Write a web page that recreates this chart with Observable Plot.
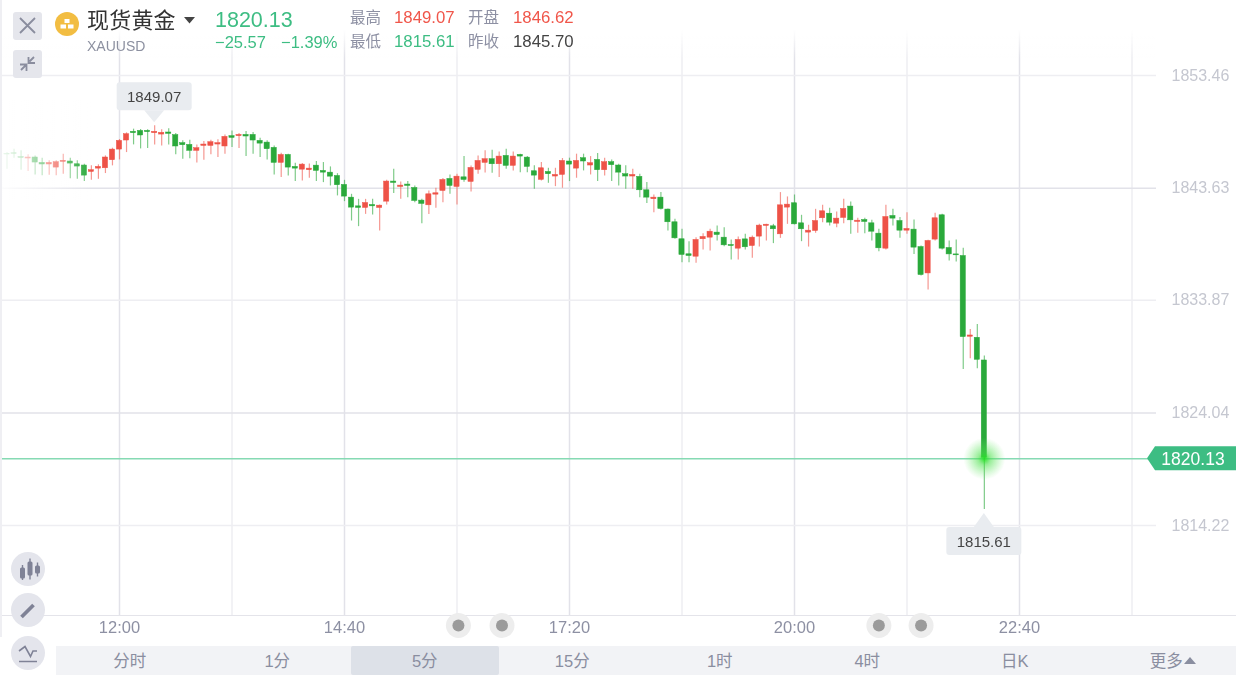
<!DOCTYPE html>
<html><head><meta charset="utf-8">
<script src="https://cdn.jsdelivr.net/npm/d3@7"></script>
<script src="https://cdn.jsdelivr.net/npm/@observablehq/plot@0.6"></script>
<style>
html,body{margin:0;padding:0;background:#fff;width:1236px;height:676px;overflow:hidden;font-family:"Liberation Sans","Noto Sans CJK SC",sans-serif}
#root{position:relative;width:1236px;height:676px;filter:blur(.35px)}
.a{position:absolute;white-space:nowrap;line-height:1}
.btn{position:absolute;background:#e5e6ec;border-radius:3px}
.circ{position:absolute;left:11px;width:34px;height:34px;border-radius:50%;background:#e4e5ec}
#tabs{position:absolute;left:56px;top:646px;width:1180px;height:29px;background:#f2f3f6;display:flex}
#tabs div{width:147.5px;text-align:center;line-height:30px;font-size:16.5px;color:#8a8ea0;box-sizing:border-box}
#tabs div.on{background:#dde1e8;border-radius:2px}
#tabs div.more{padding-left:21px}
.gr{color:#3dbd83}.rd{color:#f0564a}.lb{color:#8d90a3}.dk{color:#444}
</style></head><body><div id="root"></div>
<script>
// five-minute candles, first candle 80 minutes before 12:00
const firstMinute = -80, stepMinutes = 5;
const directions = "GGGRGGRRRG"+"GGRRRRRRGG"+"GRRGGGGRRR"+"RRGRGGGGGR"+"GGRRGGGGGG"+"GRGRRGRGGG"+"RRRGRGRRRG"+"RGRGGGRGRR"+"GRGRGRGGGR"+"GGRGGGGGRR"+"RGGGRGRRRG"+"RRGGRRRGRR"+"GRGGGRGGRG"+"GRRGGGGRGG";
const highs = [
1846.74,1847.03,1846.89,1846.54,1846.45,1846.25,1846.02,1846.02,1846.60,1846.25,
1846.02,1845.72,1845.58,1845.67,1846.45,1847.12,1847.88,1848.46,1848.78,1848.75,
1848.72,1849.07,1848.72,1848.81,1848.40,1847.76,1847.82,1847.41,1847.70,1847.82,
1847.85,1848.28,1848.63,1848.40,1848.58,1848.49,1847.99,1847.76,1847.32,1846.68,
1846.59,1845.81,1845.78,1845.75,1845.95,1845.87,1845.49,1844.90,1844.32,1843.10,
1842.66,1842.66,1842.66,1842.17,1844.32,1845.28,1844.18,1844.21,1843.83,1842.66,
1843.39,1843.62,1844.47,1844.79,1844.85,1846.39,1845.57,1846.45,1846.89,1846.95,
1846.80,1847.03,1846.80,1846.60,1846.39,1845.58,1845.87,1845.37,1845.37,1846.22,
1846.25,1846.60,1846.60,1846.39,1846.65,1846.25,1846.10,1845.72,1845.58,1845.29,
1844.85,1844.12,1843.05,1843.25,1841.82,1840.92,1840.05,1838.97,1839.32,1839.67,
1840.05,1840.34,1840.19,1839.12,1839.38,1839.61,1839.46,1840.48,1840.48,1840.48,
1843.25,1842.87,1843.04,1841.27,1840.40,1841.79,1842.14,1841.88,1841.56,1842.67,
1842.43,1841.01,1841.01,1840.83,1840.05,1842.14,1841.79,1841.07,1841.50,1840.86,
1838.59,1839.09,1841.44,1841.36,1839.03,1839.12,1838.39,1831.32,1831.75,1828.99];
const bodyTops = [
1846.63,1846.68,1846.34,1846.31,1846.31,1845.84,1845.84,1845.90,1846.02,1845.96,
1845.72,1845.61,1845.20,1845.49,1846.31,1847.00,1847.76,1848.34,1848.55,1848.63,
1848.63,1848.55,1848.46,1848.49,1848.26,1847.56,1847.41,1847.12,1847.44,1847.64,
1847.56,1848.11,1848.17,1848.28,1848.28,1848.28,1847.76,1847.61,1847.15,1846.53,
1846.53,1845.49,1845.69,1845.34,1845.60,1845.14,1844.99,1844.70,1843.92,1842.81,
1842.05,1842.34,1842.17,1842.11,1844.21,1844.21,1843.86,1843.95,1843.65,1842.55,
1843.10,1843.19,1844.35,1844.44,1844.64,1844.58,1845.40,1846.01,1846.16,1846.16,
1846.39,1846.45,1846.39,1846.54,1846.30,1845.11,1845.37,1845.05,1844.79,1846.01,
1845.96,1846.01,1846.25,1845.81,1846.10,1845.90,1845.90,1845.61,1844.85,1844.79,
1844.62,1843.45,1842.81,1842.81,1841.77,1840.66,1839.18,1837.87,1839.12,1839.38,
1839.84,1839.76,1839.32,1838.68,1839.12,1839.17,1839.32,1840.37,1840.45,1840.31,
1842.14,1842.20,1842.32,1840.57,1839.93,1840.77,1841.62,1841.41,1840.98,1841.82,
1842.03,1840.80,1840.86,1840.57,1839.67,1841.12,1841.21,1840.77,1840.08,1840.02,
1838.50,1839.03,1841.01,1841.27,1838.42,1837.86,1837.72,1830.79,1830.59,1828.61];
const bodyBottoms = [
1846.57,1846.63,1846.28,1846.22,1845.87,1845.70,1845.70,1845.43,1845.93,1845.78,
1845.52,1844.73,1845.05,1845.34,1845.37,1846.07,1847.00,1847.79,1848.43,1848.23,
1848.52,1848.43,1848.31,1848.37,1847.27,1847.38,1846.89,1846.89,1847.32,1847.32,
1847.44,1847.27,1848.02,1848.17,1848.14,1847.79,1847.52,1847.03,1845.84,1845.84,
1845.43,1845.34,1845.25,1845.20,1845.14,1844.99,1844.64,1843.89,1842.90,1841.94,
1841.91,1841.91,1842.05,1841.91,1842.46,1844.09,1843.74,1843.83,1842.52,1842.26,
1842.14,1843.07,1843.39,1843.83,1843.74,1844.35,1844.18,1845.23,1845.84,1845.72,
1845.72,1845.58,1845.58,1846.39,1845.49,1844.73,1844.36,1844.85,1844.65,1844.79,
1845.69,1845.34,1845.96,1845.61,1845.20,1845.20,1845.64,1844.99,1844.65,1844.65,
1843.45,1842.81,1842.67,1841.82,1840.66,1839.26,1837.81,1837.72,1837.66,1839.18,
1839.32,1839.55,1838.65,1838.59,1838.36,1838.48,1838.59,1839.41,1840.34,1840.05,
1839.61,1841.94,1840.48,1840.05,1839.76,1839.90,1841.01,1840.63,1840.54,1841.04,
1840.83,1840.69,1840.69,1839.84,1838.39,1838.36,1840.98,1839.93,1839.93,1838.45,
1836.06,1836.20,1839.15,1838.36,1837.86,1837.78,1830.65,1830.68,1828.67,1820.13];
const lows = [
1845.29,1846.25,1845.20,1845.08,1844.79,1844.71,1844.76,1844.71,1844.85,1844.46,
1844.41,1844.21,1844.33,1844.41,1844.91,1845.58,1846.10,1846.74,1847.41,1847.06,
1847.09,1847.41,1847.32,1847.41,1846.54,1846.16,1846.19,1845.84,1846.07,1846.54,
1846.31,1846.60,1847.18,1847.09,1846.39,1846.60,1846.30,1846.10,1844.79,1844.56,
1844.70,1844.21,1844.27,1844.50,1844.21,1844.12,1843.83,1842.96,1842.46,1840.77,
1840.28,1841.35,1841.30,1839.90,1842.17,1843.16,1842.66,1842.81,1842.37,1840.54,
1841.35,1841.88,1842.37,1843.10,1842.17,1844.15,1843.30,1844.85,1844.95,1844.94,
1844.56,1845.29,1845.14,1844.99,1844.99,1843.54,1844.27,1844.06,1843.77,1843.63,
1844.21,1844.50,1845.14,1844.79,1844.21,1844.70,1844.21,1843.83,1843.54,1843.54,
1842.81,1842.29,1841.50,1841.74,1839.90,1839.18,1837.14,1837.14,1837.08,1838.24,
1838.16,1839.03,1838.53,1837.37,1837.37,1838.24,1837.52,1838.50,1839.03,1838.80,
1839.26,1840.48,1840.43,1838.97,1838.50,1839.70,1840.63,1840.34,1840.19,1840.54,
1839.61,1839.70,1839.67,1839.03,1838.10,1838.24,1840.34,1839.26,1839.61,1837.86,
1835.97,1834.75,1839.03,1838.24,1837.28,1837.19,1827.82,1828.76,1827.88,1815.61];
const yTicks = [1853.46,1843.63,1833.87,1824.04,1814.22];
const strongYTicks = [1843.63,1824.04];
const xTickValues = [0,160,320,480,640];
const xTickLabels = ["12:00","14:40","17:20","20:00","22:40"];
const minorGridMinutes = [80,240,400,560,720];
const eventMinutes = [241,272,540,570];
const lastPrice = 1820.13, dayHigh = 1849.07, dayLow = 1815.61;
const highMinute = 25, lowMinute = 615;

const GREEN="#2aa93b", RED="#ee5247";
const candles = highs.map((h,i)=>({t:firstMinute+i*stepMinutes,h,l:lows[i],top:bodyTops[i],bot:bodyBottoms[i],c:directions[i]==="R"?RED:GREEN}));
const FONT='"Liberation Sans","Noto Sans CJK SC",sans-serif';

// Price callout attached to a candle extreme, positioned through the plot's scales
function callout(minute, price, above){
  return (index, scales) => {
    const px = scales.x(minute), py = scales.y(price), w = 75, h = 28, rx = 3;
    const near = above ? py - 15 : py + 18, far = above ? near - h : near + h;
    const apex = above ? py - 3 : py + 4;
    const g = d3.create("svg:g");
    g.append("svg:path").attr("fill","#e9ecf0")
      .attr("d",`M${px-10},${near}L${px},${apex}L${px+10},${near}Z`);
    g.append("svg:rect").attr("x",px-w/2).attr("y",Math.min(near,far)).attr("width",w).attr("height",h).attr("rx",rx).attr("fill","#e9ecf0");
    g.append("svg:text").attr("x",px).attr("y",(near+far)/2+5.5).attr("text-anchor","middle")
      .attr("font-size",15).attr("fill","#444").text(price.toFixed(2));
    return g.node();
  };
}
// Last-price tag at the right edge of the frame
function priceTag(price){
  return (index, scales, values, dim) => {
    const py = scales.y(price) + 1, right = dim.width - dim.marginRight, a = right - 9, b = right - 1;
    const g = d3.create("svg:g");
    g.append("svg:path").attr("fill","#3dbd83")
      .attr("d",`M${a},${py}L${b},${py-12}H${dim.width}V${py+12}H${b}Z`);
    g.append("svg:text").attr("x",(b+dim.width)/2-2.5).attr("y",py+6.5).attr("text-anchor","middle")
      .attr("font-size",17.5).attr("fill","#fff").text(price.toFixed(2));
    return g.node();
  };
}

const chart = Plot.plot({
  width:1236,height:676,marginLeft:0,marginTop:0,marginRight:80,marginBottom:61,
  style:{position:"absolute",left:"0",top:"0",background:"transparent",fontFamily:FONT},
  x:{type:"linear",domain:[0,640],range:[119,1019]},
  y:{type:"linear",domain:[1853.46,1814.22],range:[75,525]},
  marks:[
    ()=>{const d=d3.create("svg:defs");const g=d.append("svg:radialGradient").attr("id","glow");
      g.append("svg:stop").attr("offset","0%").attr("stop-color","#22e022").attr("stop-opacity",.95);
      g.append("svg:stop").attr("offset","30%").attr("stop-color","#45e045").attr("stop-opacity",.55);
      g.append("svg:stop").attr("offset","100%").attr("stop-color","#70ea70").attr("stop-opacity",0);
      return d.node();},
    Plot.ruleX(minorGridMinutes,{stroke:"#eeeef2",strokeWidth:1.5}),
    Plot.ruleX(xTickValues,{stroke:"#e2e2e9",strokeWidth:1.5}),
    Plot.ruleY(yTicks.filter(v=>!strongYTicks.includes(v)),{stroke:"#eeeef2",strokeWidth:1.5}),
    Plot.ruleY(strongYTicks,{stroke:"#e2e2e9",strokeWidth:1.5}),
    Plot.axisY(yTicks,{anchor:"right",tickSize:0,tickPadding:15,tickFormat:d=>d.toFixed(2),fontSize:16,color:"#c5c7d0",label:null}),
    Plot.axisX(xTickValues,{anchor:"bottom",tickSize:0,tickPadding:6,tickFormat:d=>xTickLabels[xTickValues.indexOf(d)],fontSize:16.5,color:"#8d90a3",label:null}),
    Plot.dot(eventMinutes,{x:d=>d,frameAnchor:"bottom",dy:10,r:12.5,fill:"#ededed"}),
    Plot.dot(eventMinutes,{x:d=>d,frameAnchor:"bottom",dy:10,r:6,fill:"#9b9b9b"}),
    Plot.ruleY([lastPrice],{dy:1,stroke:"#86dab3",strokeWidth:1.5}),
    Plot.ruleX(candles,{x:"t",y1:"l",y2:"h",stroke:"c",strokeWidth:1.2,strokeOpacity:.6}),
    Plot.rect(candles,{x1:d=>d.t-1.85,x2:d=>d.t+1.85,y1:"bot",y2:"top",fill:"c",stroke:"c",strokeWidth:.5}),
    Plot.dot([lastPrice],{x:()=>lowMinute,y:d=>d,dy:1,r:21,fill:"url(#glow)"}),
    callout(highMinute,dayHigh,true),
    callout(lowMinute,dayLow,false),
    priceTag(lastPrice)
  ]
});
const root=document.getElementById("root");
root.innerHTML=`<div class="a" style="left:0;top:615px;width:1236px;height:1px;background:#e4e4ea"></div>`;
root.appendChild(chart);
const tabs=["分时","1分","5分","15分","1时","4时","日K","更多"];
root.insertAdjacentHTML("beforeend",`
<div class="a" style="left:0;top:0;width:1155px;height:58px;background:linear-gradient(to bottom,#fff 0,#fff 30px,rgba(255,255,255,0) 58px)"></div>
<div class="a" style="left:0;top:100px;width:92px;height:100px;background:linear-gradient(to right,rgba(255,255,255,.93),rgba(255,255,255,0))"></div>
<div class="a" style="left:0;top:0;width:2px;height:637px;background:#efeff3"></div>
<div class="btn" style="left:13px;top:12px;width:29px;height:28px"><svg width="29" height="28"><path d="M7 6L22 21M22 6L7 21" stroke="#8a8d9e" stroke-width="1.8"/></svg></div>
<div class="btn" style="left:13px;top:50px;width:29px;height:28px"><svg width="29" height="28"><path d="M8 20L12.5 15.5M21 7L16.5 11.5M7 14.5H13.5V21M22 13H15.5V7" stroke="#8a8d9e" stroke-width="1.8" fill="none"/></svg></div>
<svg class="a" style="left:55px;top:12px" width="24" height="24"><circle cx="12" cy="12" r="12" fill="#f2bd42"/><path d="M9.5 7h5v4h-5zM5.5 12.5h5.5v4h-5.5zM13 12.5h5.5v4H13z" fill="#fff"/></svg>
<div class="a" style="left:87px;top:10px;font-size:22px;color:#333;letter-spacing:.2px">现货黄金</div>
<svg class="a" style="left:184px;top:17px" width="11" height="7"><path d="M0 0H11L5.5 6.5Z" fill="#444"/></svg>
<div class="a" style="left:87px;top:39px;font-size:14px;color:#8c90a0">XAUUSD</div>
<div class="a gr" style="left:215px;top:10px;font-size:21.5px">1820.13</div>
<div class="a gr" style="left:215px;top:34px;font-size:16.5px">−25.57</div>
<div class="a gr" style="left:281px;top:34px;font-size:16.5px">−1.39%</div>
<div class="a lb" style="left:350px;top:10px;font-size:15.5px">最高</div>
<div class="a rd" style="left:394px;top:10px;font-size:16.8px">1849.07</div>
<div class="a lb" style="left:468px;top:10px;font-size:15.5px">开盘</div>
<div class="a rd" style="left:513px;top:10px;font-size:16.8px">1846.62</div>
<div class="a lb" style="left:350px;top:34px;font-size:15.5px">最低</div>
<div class="a gr" style="left:394px;top:34px;font-size:16.8px">1815.61</div>
<div class="a lb" style="left:468px;top:34px;font-size:15.5px">昨收</div>
<div class="a dk" style="left:513px;top:34px;font-size:16.8px">1845.70</div>
<div class="circ" style="top:552px"><svg width="34" height="34"><path d="M11.5 13v15M19 6.5v21M26.5 10.5v14" stroke="#7f8296" stroke-width="1.4"/><rect x="9" y="15.5" width="5" height="11" rx="1.5" fill="#7f8296"/><rect x="16.5" y="9.5" width="5" height="14" rx="1.5" fill="#7f8296"/><rect x="24" y="13.5" width="5" height="8" rx="1.5" fill="#7f8296"/></svg></div>
<div class="circ" style="top:593px"><svg width="34" height="34"><path d="M10.5 24L22.5 12" stroke="#7f8296" stroke-width="3.8"/></svg></div>
<div class="circ" style="top:636px"><svg width="34" height="34"><path d="M8 15L14 10.5L19.5 20.5L22 15H26M8 25.5H26" stroke="#7f8296" stroke-width="1.6" fill="none"/></svg></div>
<div id="tabs">${tabs.map((t,i)=>`<div class="${i==2?"on":i==7?"more":""}">${t}${i==7?'<svg width="12" height="8" style="margin-left:1px;vertical-align:2px"><path d="M0 7H12L6 0Z" fill="#8a8ea0"/></svg>':""}</div>`).join("")}</div>`);
</script></body></html>
